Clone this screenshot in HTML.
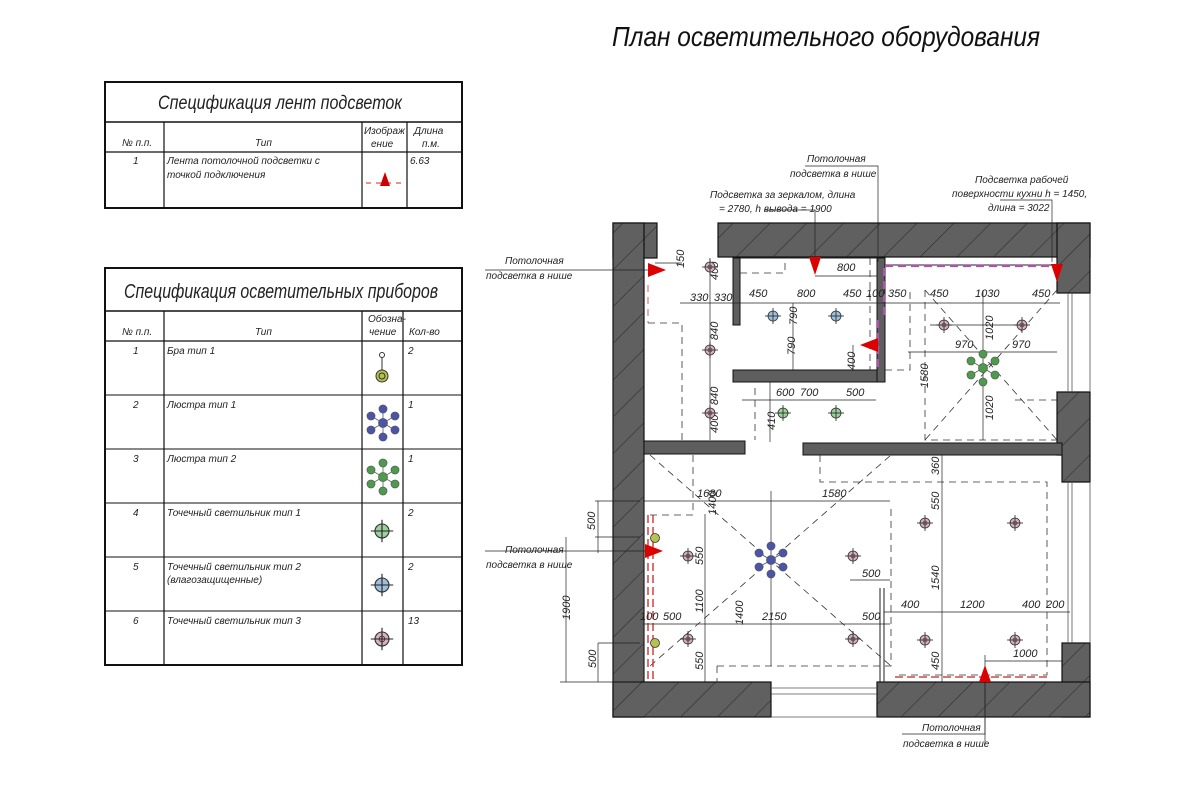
<!DOCTYPE html>
<html><head><meta charset="utf-8"><style>
html,body{margin:0;padding:0;background:#fff;}
svg{display:block;font-family:"Liberation Sans","DejaVu Sans",sans-serif;font-style:italic;}
</style></head><body>
<svg width="1200" height="800" viewBox="0 0 1200 800" xmlns="http://www.w3.org/2000/svg">
<defs>
<pattern id="h" patternUnits="userSpaceOnUse" width="26" height="26" patternTransform="rotate(45)">
<rect width="26" height="26" fill="#606060"/><line x1="0" y1="0" x2="0" y2="26" stroke="#2a2a2a" stroke-width="1.1"/>
</pattern>
<g id="sp"><circle r="5" fill="#d8b0c0" stroke="#333" stroke-width="0.8"/><line x1="-8" y1="0" x2="8" y2="0" stroke="#222" stroke-width="0.8"/><line x1="0" y1="-8" x2="0" y2="8" stroke="#222" stroke-width="0.8"/><circle r="2" fill="none" stroke="#333" stroke-width="0.6"/></g>
<g id="sb"><circle r="5" fill="#9ec0dc" stroke="#333" stroke-width="0.8"/><line x1="-8" y1="0" x2="8" y2="0" stroke="#222" stroke-width="0.8"/><line x1="0" y1="-8" x2="0" y2="8" stroke="#222" stroke-width="0.8"/></g>
<g id="sg"><circle r="5" fill="#9ed09e" stroke="#333" stroke-width="0.8"/><line x1="-8" y1="0" x2="8" y2="0" stroke="#222" stroke-width="0.8"/><line x1="0" y1="-8" x2="0" y2="8" stroke="#222" stroke-width="0.8"/></g>
<g id="chb" stroke="#556" stroke-width="0.8"><line x1="0" y1="-14" x2="0" y2="14"/><line x1="-12" y1="-7" x2="12" y2="7"/><line x1="-12" y1="7" x2="12" y2="-7"/><g fill="#4a55a8"><circle r="4.5"/><circle cy="-14" r="4"/><circle cy="14" r="4"/><circle cx="-12" cy="-7" r="4"/><circle cx="12" cy="7" r="4"/><circle cx="-12" cy="7" r="4"/><circle cx="12" cy="-7" r="4"/></g></g>
<g id="chg" stroke="#565" stroke-width="0.8"><line x1="0" y1="-14" x2="0" y2="14"/><line x1="-12" y1="-7" x2="12" y2="7"/><line x1="-12" y1="7" x2="12" y2="-7"/><g fill="#4e9a4e"><circle r="4.5"/><circle cy="-14" r="4"/><circle cy="14" r="4"/><circle cx="-12" cy="-7" r="4"/><circle cx="12" cy="7" r="4"/><circle cx="-12" cy="7" r="4"/><circle cx="12" cy="-7" r="4"/></g></g>
<g id="sc"><circle r="4.5" fill="#b8c050" stroke="#333" stroke-width="0.8"/></g>
</defs>

<text x="612" y="46" font-size="28" textLength="428" lengthAdjust="spacingAndGlyphs" fill="#111">План осветительного оборудования</text>

<g stroke="#111" fill="none">
<rect x="105" y="82" width="357" height="126" stroke-width="2"/>
<line x1="105" y1="122" x2="462" y2="122" stroke-width="1.5"/>
<line x1="105" y1="152" x2="462" y2="152" stroke-width="1.2"/>
<line x1="164" y1="122" x2="164" y2="208" stroke-width="1.2"/>
<line x1="362" y1="122" x2="362" y2="208" stroke-width="1.2"/>
<line x1="407" y1="122" x2="407" y2="208" stroke-width="1.2"/>
</g>
<g fill="#222">
<text x="158" y="109" font-size="19" textLength="244" lengthAdjust="spacingAndGlyphs">Спецификация лент подсветок</text>
<text x="122" y="146" font-size="10">№ п.п.</text>
<text x="255" y="146" font-size="10">Тип</text>
<text x="364" y="134" font-size="10">Изображ</text>
<text x="371" y="147" font-size="10">ение</text>
<text x="414" y="134" font-size="10">Длина</text>
<text x="422" y="147" font-size="10">п.м.</text>
<text x="133" y="164" font-size="10">1</text>
<text x="167" y="164" font-size="10">Лента потолочной подсветки с</text>
<text x="167" y="178" font-size="10">точкой подключения</text>
<text x="410" y="164" font-size="10">6.63</text>
</g>
<line x1="366" y1="183" x2="404" y2="183" stroke="#d22" stroke-dasharray="5,5"/>
<polygon points="385,172 380,186 390,186" fill="#c00"/>

<g stroke="#111" fill="none">
<rect x="105" y="268" width="357" height="397" stroke-width="2"/>
<line x1="105" y1="311" x2="462" y2="311" stroke-width="1.5"/>
<line x1="105" y1="341" x2="462" y2="341" stroke-width="1.2"/>
<line x1="105" y1="395" x2="462" y2="395"/><line x1="105" y1="449" x2="462" y2="449"/>
<line x1="105" y1="503" x2="462" y2="503"/><line x1="105" y1="557" x2="462" y2="557"/>
<line x1="105" y1="611" x2="462" y2="611"/>
<line x1="164" y1="311" x2="164" y2="665" stroke-width="1.2"/>
<line x1="362" y1="311" x2="362" y2="665" stroke-width="1.2"/>
<line x1="403" y1="311" x2="403" y2="665" stroke-width="1.2"/>
</g>
<g fill="#222">
<text x="124" y="298" font-size="20" textLength="314" lengthAdjust="spacingAndGlyphs">Спецификация осветительных приборов</text>
<text x="122" y="335" font-size="10">№ п.п.</text>
<text x="255" y="335" font-size="10">Тип</text>
<text x="368" y="322" font-size="10">Обозна-</text>
<text x="369" y="335" font-size="10">чение</text>
<text x="409" y="335" font-size="10">Кол-во</text>
<text x="133" y="354" font-size="10">1</text><text x="167" y="354" font-size="10">Бра тип 1</text><text x="408" y="354" font-size="10">2</text>
<text x="133" y="408" font-size="10">2</text><text x="167" y="408" font-size="10">Люстра тип 1</text><text x="408" y="408" font-size="10">1</text>
<text x="133" y="462" font-size="10">3</text><text x="167" y="462" font-size="10">Люстра тип 2</text><text x="408" y="462" font-size="10">1</text>
<text x="133" y="516" font-size="10">4</text><text x="167" y="516" font-size="10">Точечный светильник тип 1</text><text x="408" y="516" font-size="10">2</text>
<text x="133" y="570" font-size="10">5</text><text x="167" y="570" font-size="10">Точечный светильник тип 2</text><text x="167" y="583" font-size="10">(влагозащищенные)</text><text x="408" y="570" font-size="10">2</text>
<text x="133" y="624" font-size="10">6</text><text x="167" y="624" font-size="10">Точечный светильник тип 3</text><text x="408" y="624" font-size="10">13</text>
</g>
<line x1="382" y1="356" x2="382" y2="371" stroke="#333"/><circle cx="382" cy="355" r="2.5" fill="#fff" stroke="#333"/>
<circle cx="382" cy="376" r="6" fill="#b8c050" stroke="#333"/><circle cx="382" cy="376" r="3" fill="none" stroke="#333"/>
<use href="#chb" x="383" y="423"/>
<use href="#chg" x="383" y="477"/>
<g transform="translate(382,531) scale(1.4)"><use href="#sg"/></g>
<g transform="translate(382,585) scale(1.4)"><use href="#sb"/></g>
<g transform="translate(382,639) scale(1.4)"><use href="#sp"/></g>

<g fill="url(#h)" stroke="#111" stroke-width="1.2">
<rect x="613" y="223" width="44" height="35"/>
<rect x="613" y="223" width="31" height="494"/>
<rect x="718" y="223" width="372" height="34"/>
<rect x="1057" y="223" width="33" height="70"/>
<polygon points="1057,392 1090,392 1090,482 1062,482 1062,455 1057,455"/>
<rect x="1062" y="643" width="28" height="74"/>
<rect x="613" y="682" width="158" height="35"/>
<rect x="877" y="682" width="213" height="35"/>
</g>
<g fill="#5e5e5e" stroke="#111">
<rect x="644" y="441" width="101" height="13"/>
<rect x="803" y="443" width="259" height="12"/>
<rect x="733" y="258" width="7" height="67"/>
<rect x="733" y="370" width="152" height="12"/>
<rect x="877" y="258" width="8" height="124"/>
</g>
<g stroke="#555" fill="none" stroke-width="0.8">
<line x1="1068" y1="293" x2="1068" y2="392"/><line x1="1072" y1="293" x2="1072" y2="392"/><line x1="1090" y1="293" x2="1090" y2="392"/>
<line x1="1068" y1="482" x2="1068" y2="643"/><line x1="1072" y1="482" x2="1072" y2="643"/><line x1="1090" y1="482" x2="1090" y2="643"/>
<line x1="771" y1="688" x2="877" y2="688"/><line x1="771" y1="694" x2="877" y2="694"/><line x1="771" y1="717" x2="877" y2="717"/>
</g>
<g stroke="#222" stroke-width="1" fill="none">
<line x1="740" y1="258" x2="877" y2="258"/>
<line x1="885" y1="265" x2="1057" y2="265"/>
<line x1="644" y1="455" x2="644" y2="682"/>
<line x1="880" y1="588" x2="880" y2="682"/><line x1="884" y1="588" x2="884" y2="682"/>
</g>

<g stroke="#333" stroke-width="0.8" fill="none" stroke-dasharray="7,5">
<polyline points="648,323 682,323 682,440"/>
<polyline points="740,273 785,273 785,258"/>
<line x1="870" y1="258" x2="870" y2="370"/>
<polyline points="885,370 910,370 910,350 910,290"/>
<polyline points="925,290 925,440 1057,440"/>
<polyline points="1015,400 1057,400"/>
<line x1="925" y1="290" x2="1057" y2="440" />
<line x1="1057" y1="290" x2="925" y2="440"/>
<polyline points="693,455 693,515 650,515"/>
<polyline points="820,455 820,482 1047,482 1047,675 895,675"/>
<polyline points="717,666 717,682"/><polyline points="717,666 891,666 891,507"/>
<line x1="650" y1="455" x2="891" y2="666"/>
<line x1="650" y1="666" x2="891" y2="455"/>
<line x1="755" y1="388" x2="755" y2="440"/>
<line x1="648" y1="285" x2="648" y2="323" stroke="#c33"/>
</g>
<g stroke="#c22" stroke-width="1.3" fill="none" stroke-dasharray="8,4">
<line x1="648" y1="515" x2="648" y2="680"/><line x1="653" y1="515" x2="653" y2="680"/>
<line x1="895" y1="677" x2="1047" y2="677"/>
</g>
<g stroke="#b050b0" stroke-width="2.2" fill="none" stroke-dasharray="8,5">
<line x1="885" y1="266" x2="1057" y2="266"/>
<line x1="884" y1="268" x2="884" y2="320"/>
<line x1="878" y1="320" x2="878" y2="372"/>
</g>

<g stroke="#222" stroke-width="0.7" fill="none">
<line x1="680" y1="303" x2="1060" y2="303"/>
<line x1="710" y1="258" x2="710" y2="440"/>
<line x1="655" y1="263" x2="682" y2="263"/>
<line x1="793" y1="303" x2="793" y2="370"/>
<line x1="815" y1="276" x2="877" y2="276"/>
<line x1="853" y1="345" x2="853" y2="370"/>
<line x1="742" y1="400" x2="876" y2="400"/>
<line x1="770" y1="382" x2="770" y2="442"/>
<line x1="908" y1="352" x2="1057" y2="352"/>
<line x1="983" y1="290" x2="983" y2="440"/>
<line x1="930" y1="325" x2="1020" y2="325"/>
<line x1="643" y1="501" x2="890" y2="501"/>
<line x1="771" y1="491" x2="771" y2="666"/>
<line x1="705" y1="514" x2="705" y2="682"/>
<line x1="643" y1="624" x2="890" y2="624"/>
<line x1="850" y1="580" x2="890" y2="580"/>
<line x1="942" y1="455" x2="942" y2="682"/>
<line x1="884" y1="612" x2="1070" y2="612"/>
<line x1="985" y1="661" x2="1063" y2="661"/>
<line x1="985" y1="655" x2="985" y2="745"/>
<line x1="595" y1="501" x2="640" y2="501"/><line x1="595" y1="537" x2="640" y2="537"/>
<line x1="566" y1="537" x2="566" y2="682"/>
<line x1="598" y1="643" x2="598" y2="682"/>
<line x1="560" y1="682" x2="640" y2="682"/>
<line x1="598" y1="643" x2="640" y2="643"/>
<line x1="598" y1="501" x2="598" y2="553"/>
<polyline points="485,270 650,270"/>
<polyline points="485,551 650,551"/>
<polyline points="902,734 985,734 985,680"/>
<polyline points="805,166 878,166 878,262"/>
<polyline points="765,210 815,210 815,258"/>
<polyline points="1000,200 1052,200 1052,262"/>
</g>
<g fill="#222" font-size="11">
<text x="690" y="301">330</text><text x="714" y="301">330</text><text x="749" y="297">450</text>
<text x="797" y="297">800</text><text x="843" y="297">450</text><text x="866" y="297">100</text><text x="888" y="297">350</text>
<text x="930" y="297">450</text><text x="975" y="297">1030</text><text x="1032" y="297">450</text>
<text x="837" y="271">800</text><text x="776" y="396">600</text><text x="800" y="396">700</text><text x="846" y="396">500</text>
<text x="955" y="348">970</text><text x="1012" y="348">970</text>
<text x="697" y="497">1680</text><text x="822" y="497">1580</text>
<text x="640" y="620">100</text><text x="663" y="620">500</text><text x="762" y="620">2150</text><text x="862" y="620">500</text>
<text x="862" y="577">500</text><text x="901" y="608">400</text><text x="960" y="608">1200</text><text x="1022" y="608">400</text><text x="1046" y="608">200</text>
<text x="1013" y="657">1000</text>
<g transform="rotate(-90)">
<text x="-280" y="718">400</text><text x="-340" y="718">840</text><text x="-405" y="718">840</text><text x="-433" y="718">400</text>
<text x="-325" y="797">790</text><text x="-355" y="795">790</text><text x="-370" y="855">400</text>
<text x="-388" y="928">1580</text><text x="-340" y="993">1020</text><text x="-420" y="993">1020</text>
<text x="-430" y="775">410</text>
<text x="-515" y="716">1400</text><text x="-565" y="703">550</text><text x="-613" y="703">1100</text><text x="-670" y="703">550</text>
<text x="-625" y="743">1400</text>
<text x="-475" y="939">360</text><text x="-510" y="939">550</text><text x="-590" y="939">1540</text><text x="-670" y="939">450</text>
<text x="-530" y="595">500</text><text x="-620" y="570">1900</text><text x="-668" y="596">500</text>
<text x="-268" y="684">150</text>
</g>
</g>
<g fill="#222" font-size="10">
<text x="505" y="264">Потолочная</text><text x="486" y="279">подсветка в нише</text>
<text x="505" y="553">Потолочная</text><text x="486" y="568">подсветка в нише</text>
<text x="922" y="731">Потолочная</text><text x="903" y="747">подсветка в нише</text>
<text x="807" y="162">Потолочная</text><text x="790" y="177">подсветка в нише</text>
<text x="710" y="198">Подсветка за зеркалом, длина</text><text x="719" y="212">= 2780, h вывода = 1900</text>
<text x="975" y="183">Подсветка рабочей</text><text x="952" y="197">поверхности кухни h = 1450,</text><text x="988" y="211">длина = 3022</text>
</g>
<g fill="#d00">
<polygon points="648,263 666,270 648,277"/>
<polygon points="809,257 821,257 815,275"/>
<polygon points="878,338 878,352 860,345"/>
<polygon points="1051,264 1063,264 1057,282"/>
<polygon points="645,544 663,551 645,558"/>
<polygon points="985,665 979,682 991,682"/>
</g>
<use href="#sp" x="710" y="267"/><use href="#sp" x="710" y="350"/><use href="#sp" x="710" y="413"/>
<use href="#sb" x="773" y="316"/><use href="#sb" x="836" y="316"/>
<use href="#sg" x="783" y="413"/><use href="#sg" x="836" y="413"/>
<use href="#sp" x="944" y="325"/><use href="#sp" x="1022" y="325"/>
<use href="#chg" x="983" y="368"/>
<use href="#sp" x="688" y="556"/><use href="#sp" x="688" y="639"/><use href="#sp" x="853" y="556"/><use href="#sp" x="853" y="639"/>
<use href="#chb" x="771" y="560"/>
<use href="#sp" x="925" y="523"/><use href="#sp" x="1015" y="523"/><use href="#sp" x="925" y="640"/><use href="#sp" x="1015" y="640"/>
<use href="#sc" x="655" y="538"/><use href="#sc" x="655" y="643"/>
</svg>
</body></html>
